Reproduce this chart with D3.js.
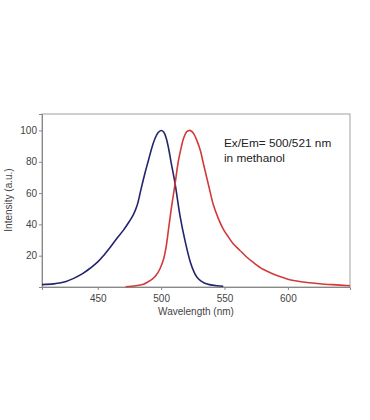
<!DOCTYPE html>
<html lang="en">
<head>
    <meta charset="UTF-8">
    <title>Ex/Em spectra</title>
    <script src="https://d3js.org/d3.v7.min.js"></script>
    <style>
        body { margin: 0; background: #fff; }
        text { font-family: "Liberation Sans", Arial, sans-serif; }
    </style>
</head>
<body>
    <script>
        // excitation (blue) spectrum
        const exWave = [406, 415, 420, 425, 431, 438, 444, 450, 455, 460, 465, 470, 475, 478, 481, 484, 487, 490, 492.5, 495, 497.5, 500,
                        502, 504, 506, 508, 511, 515, 519, 523, 526, 528, 531, 534, 538, 544, 549];
        const exVal  = [1.5, 2, 2.5, 3.5, 5.5, 8.5, 12, 16, 20.5, 25.5, 31, 36, 42, 46, 52, 62, 72, 81, 88.5, 94.5, 98.5, 100,
                        99, 95, 88, 79, 66, 45, 29, 16, 9.5, 6.5, 4, 2.5, 1.5, 0.8, 0.5];

        // emission (red) spectrum
        const emWave = [472, 480, 486, 489, 493, 496, 499, 502, 504, 506, 508, 511, 513.5, 515.8, 517.5, 520, 522, 524, 526, 528,
                        531, 533, 538, 541, 545, 549, 553, 557, 562, 567, 573, 580, 587, 593, 600, 607, 615, 625, 635, 649];
        const emVal  = [0.2, 0.8, 1.8, 3, 5, 7.5, 11.5, 18, 26, 38, 50, 66, 80, 89, 94.5, 99, 100, 99.5, 97.5, 94,
                        87, 80, 63, 53, 44, 37, 32, 27.5, 23.5, 19.5, 15.5, 11.5, 8.8, 6.8, 5, 3.8, 2.9, 2.1, 1.5, 0.8];

        const xTicks = [450, 500, 550, 600];
        const yTicks = [20, 40, 60, 80, 100];
        const note = ["Ex/Em= 500/521 nm", "in methanol"];

        const width = 370, height = 420;
        const margin = { left: 42, top: 114, right: 20, bottom: 133 };

        const svg = d3.select("body").append("svg")
            .attr("width", width)
            .attr("height", height);

        const x = d3.scaleLinear().domain([406, 649]).range([margin.left, width - margin.right]);
        const y = d3.scaleLinear().domain([0, 110.5]).range([height - margin.bottom, margin.top]);

        // frame
        svg.append("rect")
            .attr("x", margin.left)
            .attr("y", margin.top)
            .attr("width", width - margin.left - margin.right)
            .attr("height", height - margin.top - margin.bottom)
            .attr("fill", "none")
            .attr("stroke", "#a0a0a0")
            .attr("stroke-width", 1);

        const xAxis = svg.append("g")
            .attr("transform", `translate(0,${height - margin.bottom})`)
            .call(d3.axisBottom(x).tickValues(xTicks).tickSize(3).tickPadding(5));

        const yAxis = svg.append("g")
            .attr("transform", `translate(${margin.left},0)`)
            .call(d3.axisLeft(y).tickValues(yTicks).tickSize(3).tickPadding(2));

        [xAxis, yAxis].forEach(g => {
            g.select(".domain").attr("stroke", "#888");
            g.selectAll(".tick line").attr("stroke", "#888");
            g.selectAll("text").attr("fill", "#444").attr("font-size", 10)
                .attr("font-family", "Liberation Sans, Arial, sans-serif");
        });

        const line = d3.line()
            .x(d => x(d[0]))
            .y(d => y(d[1]))
            .curve(d3.curveCatmullRom.alpha(0.5));

        svg.append("path")
            .datum(exWave.map((w, i) => [w, exVal[i]]))
            .attr("d", line)
            .attr("fill", "none")
            .attr("stroke", "#23236e")
            .attr("stroke-width", 1.6);

        svg.append("path")
            .datum(emWave.map((w, i) => [w, emVal[i]]))
            .attr("d", line)
            .attr("fill", "none")
            .attr("stroke", "#d23a3a")
            .attr("stroke-width", 1.6);

        // annotation
        svg.append("g").selectAll("text")
            .data(note)
            .join("text")
            .attr("x", 224)
            .attr("y", (d, i) => 147 + i * 15)
            .attr("font-size", 11.8)
            .attr("fill", "#222")
            .text(d => d);

        svg.append("text")
            .attr("x", (margin.left + width - margin.right) / 2)
            .attr("y", 315)
            .attr("text-anchor", "middle")
            .attr("font-size", 10)
            .attr("fill", "#444")
            .text("Wavelength (nm)");

        svg.append("text")
            .attr("transform", "translate(12,200) rotate(-90)")
            .attr("text-anchor", "middle")
            .attr("font-size", 10)
            .attr("fill", "#444")
            .text("Intensity (a.u.)");
    </script>
</body>
</html>
